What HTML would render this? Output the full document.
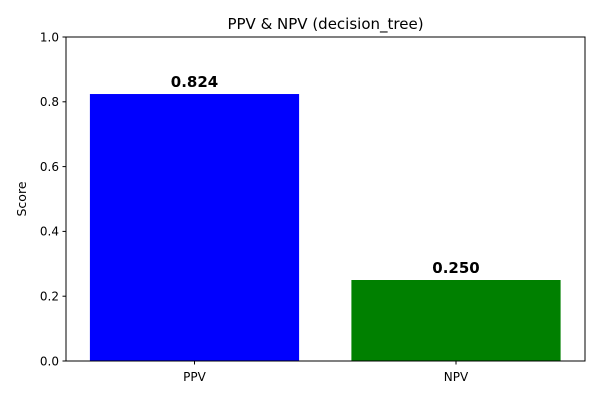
<!DOCTYPE html>
<html><head><meta charset="utf-8"><style>
body{margin:0;background:#fff;}
svg{display:block;font-family:"DejaVu Sans","Liberation Sans",sans-serif;}
</style></head><body>
<svg id="chart" width="600" height="400">
<text x="325.5" y="29" text-anchor="middle" font-size="15">PPV &amp; NPV (decision_tree)</text>
<text transform="translate(26,199) rotate(-90)" text-anchor="middle" font-size="12.5">Score</text>
<g id="marks"></g>
<rect x="66" y="37" width="519" height="324" fill="none" stroke="#000" stroke-width="1"/>
</svg>
<script>
const categories = ["PPV", "NPV"];
const values = [0.824, 0.250];
const valueLabels = ["0.824", "0.250"];
const colors = ["#0000ff", "#008000"];
const yTicks = [0, 0.2, 0.4, 0.6, 0.8, 1.0];
const yTickLabels = ["0.0", "0.2", "0.4", "0.6", "0.8", "1.0"];

const L=66,R=585,T=37,B=361;
const y = v => B - (v/1.0)*(B-T);
const step = 261.5, bw = 0.8*step;
const x = i => L + 128.5 + i*step;
const g = document.getElementById('marks');
const NS = 'http://www.w3.org/2000/svg';
function mk(tag, attrs){const e=document.createElementNS(NS,tag);for(const k in attrs)e.setAttribute(k,attrs[k]);g.appendChild(e);return e;}
yTicks.forEach((t,i)=>{
  const tk = mk('line',{x1:L-3.5,x2:L,y1:y(t),y2:y(t),stroke:'#000'});
  
  
  const lb = mk('text',{x:L-7,y:y(t)+4.3,'text-anchor':'end','font-size':12});
  lb.textContent = yTickLabels[i];
  
  
});
categories.forEach((c,i)=>{
  const bar = mk('rect',{x:x(i)-bw/2,y:y(values[i]),width:bw,height:B-y(values[i]),fill:colors[i]});
  
  
  const tk = mk('line',{x1:x(i),x2:x(i),y1:B,y2:B+3.5,stroke:'#000'});
  
  
  const lb = mk('text',{x:x(i),y:B+20,'text-anchor':'middle','font-size':12});
  lb.textContent = c;
  
  
  const vl = mk('text',{x:x(i),y:y(values[i])-7,'text-anchor':'middle','font-size':15,'font-weight':'bold'});
  vl.textContent = valueLabels[i];
  
  
});
</script>
</body></html>
